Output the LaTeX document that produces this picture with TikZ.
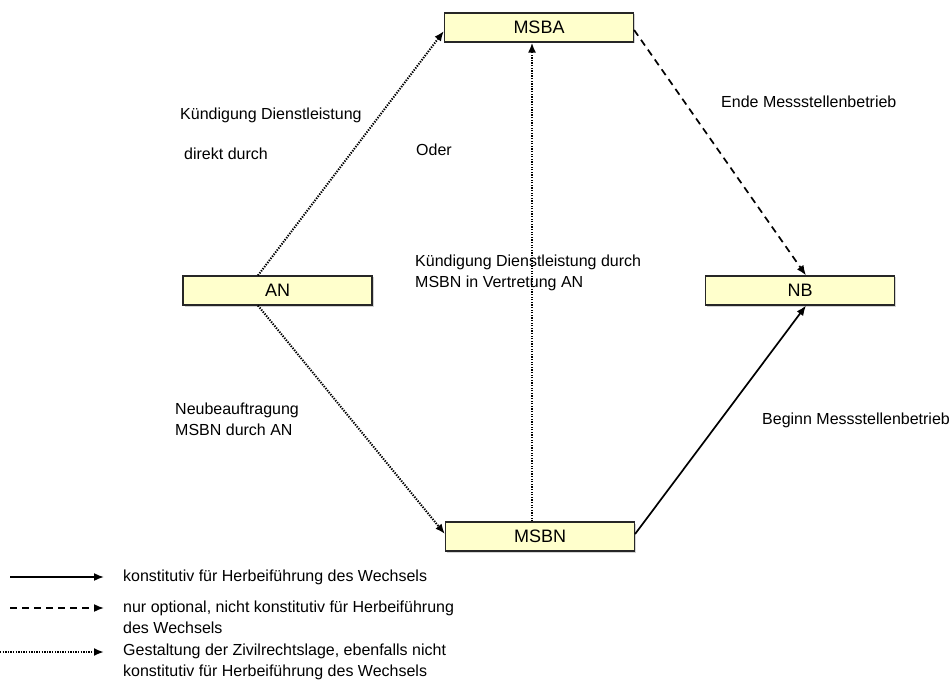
\documentclass[tikz,border=0pt]{standalone}
\usepackage{fontspec}
\setmainfont{Liberation Sans}
\usetikzlibrary{arrows.meta,shadows}
\definecolor{boxfill}{HTML}{FFFFCC}
\definecolor{boxline}{HTML}{262626}
\tikzset{
  ent/.style={draw=boxline, line width=1.2pt, fill=boxfill, minimum width=189pt, minimum height=29pt, inner sep=0pt, font=\fontsize{18}{20}\selectfont, drop shadow={shadow xshift=1.5pt, shadow yshift=-1.5pt, opacity=0.35}},
  lbl/.style={anchor=west, inner sep=0pt, align=left, font=\fontsize{16}{21}\selectfont},
  leg/.style={anchor=west, inner sep=0pt, align=left, font=\fontsize{16}{21}\selectfont},
  tip/.style={-{Latex[length=10pt,width=8pt]}},
  solidarr/.style={tip, line width=1.7pt},
  dasharr/.style={tip, line width=1.7pt, dash pattern=on 7pt off 5pt},
  dotarr/.style={tip, line width=2pt, dash pattern=on 1.3pt off 1.3pt},
}
\begin{document}
\begin{tikzpicture}[x=1pt,y=-1pt]
\useasboundingbox (0,0) rectangle (952,684);
\node[ent] (msba) at (539,27.5) {MSBA};
\node[ent] (an) at (277.5,290.5) {AN};
\node[ent] (nb) at (800,290.5) {NB};
\node[ent] (msbn) at (540,536.5) {MSBN};

\draw[dotarr] (an.north -| 258,0) -- (msba.south west |- 0,31);
\draw[dotarr] (an.south -| 258,0) -- (msbn.west |- 0,534);
\draw[dotarr] (msbn.north -| 532,0) -- (msba.south -| 532,0);
\draw[dasharr] (msba.east |- 0,30) -- (nb.north -| 806,0);
\draw[solidarr] (msbn.east |- 0,534) -- (nb.south -| 806,0);

\node[lbl] (l1) at (180,115) {Kündigung Dienstleistung};
\node[lbl] (l2) at (184,154) {direkt durch};
\node[lbl] (l3) at (416,150) {Oder};
\node[lbl] (l4) at (721,102) {Ende Messstellenbetrieb};
\node[lbl] (l5) at (415,273) {Kündigung Dienstleistung durch\\MSBN in Vertretung AN};
\node[lbl] (l6) at (175,419) {Neubeauftragung\\MSBN durch AN};
\node[lbl] (l7) at (762,420) {Beginn Messstellenbetrieb};

\coordinate (s1) at (10,577); \coordinate (e1) at (104,577);
\coordinate (s2) at (10,608); \coordinate (e2) at (104,608);
\coordinate (s3) at (0,652); \coordinate (e3) at (104,652);
\draw[solidarr] (s1) -- (e1);
\draw[dasharr] (s2) -- (e2);
\draw[dotarr] (s3) -- (e3);
\node[leg] (g1) at (123,577) {konstitutiv für Herbeiführung des Wechsels};
\node[leg] (g2) at (123,617.5) {nur optional, nicht konstitutiv für Herbeiführung\\des Wechsels};
\node[leg] (g3) at (123,661.5) {Gestaltung der Zivilrechtslage, ebenfalls nicht\\konstitutiv für Herbeiführung des Wechsels};
\end{tikzpicture}
\end{document}
